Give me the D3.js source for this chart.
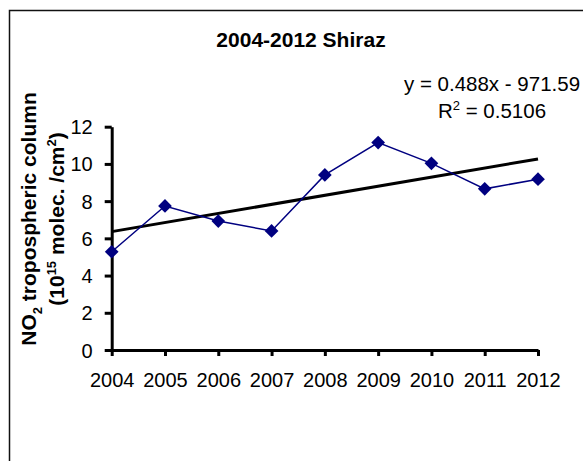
<!DOCTYPE html>
<html>
<head>
<meta charset="utf-8">
<script src="https://cdn.jsdelivr.net/npm/d3@7"></script>
<style>
  body { margin: 0; background: #fff; }
  svg { display: block; font-family: "Liberation Sans", Arial, sans-serif; }
  .axis path, .axis line { stroke: #000; stroke-width: 3; }
  .axis text { font-size: 20px; fill: #000; }
</style>
</head>
<body>
<div id="chart"></div>
<script>
// data
const years = [2004, 2005, 2006, 2007, 2008, 2009, 2010, 2011, 2012];
const no2 = [5.28, 7.74, 6.93, 6.40, 9.41, 11.15, 10.03, 8.66, 9.18];
const yTicks = [0, 2, 4, 6, 8, 10, 12];
const trendSlope = 0.488;
const trendIntercept = -971.59;
const r2 = "0.5106";

const width = 583, height = 461;

let svg = d3.select("#chart")
  .append("svg")
  .attr("width", width)
  .attr("height", height);

// outer frame (runs off the right and bottom edge)
svg.append("path")
  .attr("d", "M9.5," + height + "V10.5H" + width)
  .attr("fill", "none")
  .attr("stroke", "#111")
  .attr("stroke-width", 1.5);

let x = d3.scaleLinear().domain([2004, 2012]).range([111.7, 538]);
let y = d3.scaleLinear().domain([0, 12]).range([350, 126.7]);

// title
svg.append("text")
  .attr("x", 301).attr("y", 46.5)
  .attr("text-anchor", "middle")
  .style("font-size", "21px").style("font-weight", "bold")
  .text("2004-2012 Shiraz");

// y axis
svg.append("g")
  .attr("class", "axis")
  .attr("transform", "translate(" + x(2004) + ",0)")
  .call(d3.axisLeft(y).tickValues(yTicks).tickSize(7).tickSizeOuter(0).tickPadding(12))
  .selectAll("text").attr("dy", "0.35em");

// x axis
svg.append("g")
  .attr("class", "axis")
  .attr("transform", "translate(0," + y(0) + ")")
  .call(d3.axisBottom(x).tickValues(years).tickFormat(d3.format("d")).tickSize(6).tickSizeOuter(0).tickPadding(17));

// trend line
let trend = d => trendSlope * d + trendIntercept;
svg.append("line")
  .attr("x1", x(years[0])).attr("y1", y(trend(years[0])))
  .attr("x2", x(years[years.length - 1])).attr("y2", y(trend(years[years.length - 1])))
  .attr("stroke", "#000")
  .attr("stroke-width", 3);

// data line
let line = d3.line()
  .x((d, i) => x(years[i]))
  .y(d => y(d));

svg.append("path")
  .datum(no2)
  .attr("d", line)
  .attr("fill", "none")
  .attr("stroke", "#000080")
  .attr("stroke-width", 1.5);

// diamond markers
svg.selectAll("myDiamonds")
  .data(no2)
  .enter()
  .append("path")
    .attr("d", d3.symbol().type(d3.symbolDiamond2).size(120))
    .attr("transform", (d, i) => "translate(" + x(years[i]) + "," + y(d) + ")")
    .attr("fill", "#000080");

// equation
let eq = svg.append("g").style("font-size", "20.5px");
eq.append("text")
  .attr("x", 492).attr("y", 91)
  .attr("text-anchor", "middle")
  .text("y = " + trendSlope + "x - " + Math.abs(trendIntercept));
let r2t = eq.append("text")
  .attr("x", 492).attr("y", 118)
  .attr("text-anchor", "middle");
r2t.append("tspan").text("R");
r2t.append("tspan").attr("dy", -8).style("font-size", "13px").text("2");
r2t.append("tspan").attr("dy", 8).text(" = " + r2);

// y label, two lines
let lab = svg.append("g")
  .attr("transform", "translate(0,219) rotate(-90)")
  .style("font-size", "21px").style("font-weight", "bold");
let l1 = lab.append("text").attr("x", 0).attr("y", 35.5).attr("text-anchor", "middle");
l1.append("tspan").text("NO");
l1.append("tspan").attr("dy", 6).style("font-size", "13px").text("2");
l1.append("tspan").attr("dy", -6).text(" tropospheric column");
let l2 = lab.append("text").attr("x", 0).attr("y", 63.5).attr("text-anchor", "middle");
l2.append("tspan").text("(10");
l2.append("tspan").attr("dy", -8).style("font-size", "13px").text("15");
l2.append("tspan").attr("dy", 8).text(" molec. /cm");
l2.append("tspan").attr("dy", -8).style("font-size", "13px").text("2");
l2.append("tspan").attr("dy", 8).text(")");
</script>
</body>
</html>
